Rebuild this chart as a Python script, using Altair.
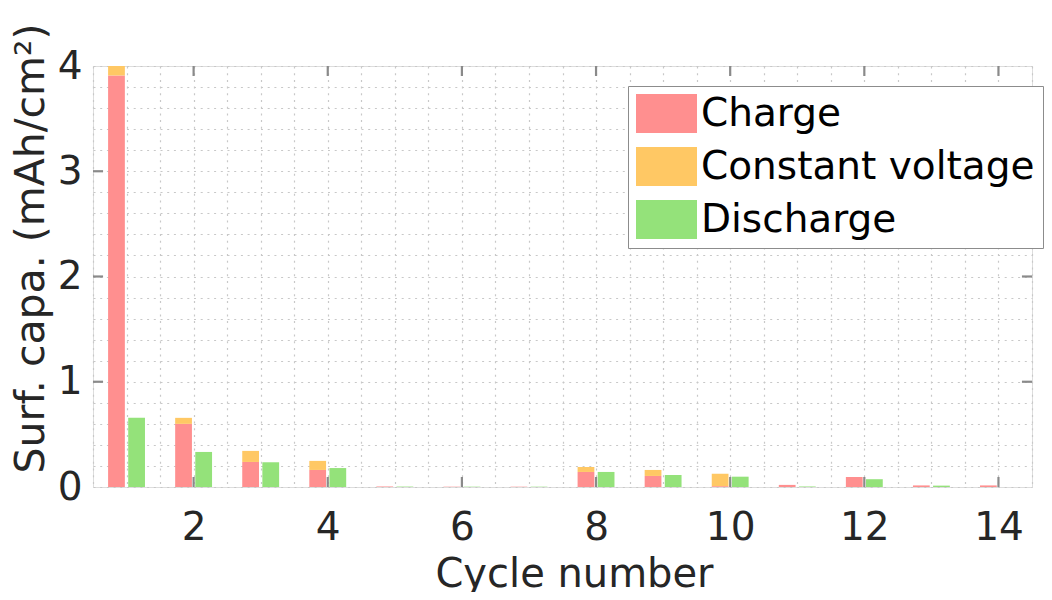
import altair as alt
import pandas as pd

cycles = list(range(1, 15))
charge = [3.91, 0.60, 0.238, 0.162, 0.005, 0.003, 0.003, 0.143, 0.105, 0.008, 0.02, 0.095, 0.015, 0.015]
const_voltage = [0.09, 0.057, 0.105, 0.086, 0.0, 0.0, 0.0, 0.047, 0.057, 0.118, 0.0, 0.0, 0.0, 0.0]
discharge = [0.657, 0.333, 0.235, 0.18, 0.004, 0.003, 0.003, 0.143, 0.114, 0.098, 0.005, 0.074, 0.013, 0.0]

series_names = ["Charge", "Constant voltage", "Discharge"]
series_colors = ["#FF8F8F", "#FFC864", "#94E27A"]

x_tick_values = [2, 4, 6, 8, 10, 12, 14]
y_tick_values = [1, 2, 3]

# bar layout constants
BAR_W = 0.25
GAP = 0.025

rows = []
for c, ch, cv, d in zip(cycles, charge, const_voltage, discharge):
    rows.append({"series": "Charge", "x0": c - GAP - BAR_W, "x1": c - GAP, "y0": 0.0, "y1": ch})
    rows.append({"series": "Constant voltage", "x0": c - GAP - BAR_W, "x1": c - GAP, "y0": ch, "y1": min(ch + cv, 4.0)})
    rows.append({"series": "Discharge", "x0": c + GAP, "x1": c + GAP + BAR_W, "y0": 0.0, "y1": d})
bars_df = pd.DataFrame(rows)

XMIN, XMAX = 0.5, 14.5
YMIN, YMAX = 0.0, 4.0
xscale = alt.Scale(domain=[XMIN, XMAX], nice=False, zero=False)
yscale = alt.Scale(domain=[YMIN, YMAX], nice=False)

FONT = "DejaVu Sans"
TXT = "#262626"
GRID = "#c8c8c8"

x_grid_vals = [0.5 * i for i in range(1, 30)]
y_grid_vals = [round(0.2 * i, 1) for i in range(0, 21)]

x_axis = alt.Axis(
    values=x_grid_vals,
    labelExpr="datum.value % 2 === 0 ? '' + datum.value : ''",
    labelOverlap=False,
    grid=True, gridDash=[2, 4.7], gridColor=GRID, gridWidth=1.2,
    ticks=False, domain=False,
    labelFontSize=39, labelColor=TXT, labelPadding=21, labelFont=FONT,
    title="Cycle number", titleFontSize=40, titleFontWeight="normal", titleColor=TXT,
    titleFont=FONT, titleX=481, titleY=99, titleBaseline="alphabetic",
)
y_axis = alt.Axis(
    values=y_grid_vals,
    labelExpr="datum.value % 1 === 0 ? '' + datum.value : ''",
    labelOverlap=False,
    grid=True, gridDash=[2, 4.7], gridColor=GRID, gridWidth=1.2,
    ticks=False, domain=False,
    labelFontSize=39, labelColor=TXT, labelPadding=11, labelFont=FONT,
    title="Surf. capa. (mAh/cm²)", titleFontSize=41, titleFontWeight="normal", titleColor=TXT,
    titleFont=FONT, titleX=-50, titleY=182, titleBaseline="alphabetic",
)

bars = alt.Chart(bars_df).mark_bar(clip=True, strokeWidth=0, opacity=1).encode(
    x=alt.X("x0:Q", scale=xscale, axis=x_axis),
    x2="x1:Q",
    y=alt.Y("y0:Q", scale=yscale, axis=y_axis),
    y2="y1:Q",
    color=alt.Color(
        "series:N",
        scale=alt.Scale(domain=series_names, range=series_colors),
        sort=series_names,
        legend=alt.Legend(
            title=None, orient="none", legendX=535, legendY=20,
            symbolType="M-1,-0.64H1V0.64H-1Z", symbolSize=3721,
            symbolStrokeWidth=0, symbolOpacity=1,
            labelFontSize=39, labelFont=FONT, labelColor="#000000", labelOffset=4,
            clipHeight=39, rowPadding=13, padding=8,
            fillColor="white", strokeColor="#8c8c8c",
            labelLimit=600,
        ),
    ),
)

TICK_LEN_Y = 0.095
TICK_LEN_X = 0.15
tick_color = "#8a8a8a"

xt = pd.DataFrame({"x": x_tick_values})
yt = pd.DataFrame({"y": y_tick_values})

bottom_ticks = alt.Chart(xt).transform_calculate(a=str(YMIN), b=str(YMIN + TICK_LEN_Y)).mark_rule(
    color=tick_color, strokeWidth=2.2).encode(
    x=alt.X("x:Q", scale=xscale, axis=x_axis), y=alt.Y("a:Q", scale=yscale, axis=y_axis), y2="b:Q")
top_ticks = alt.Chart(xt).transform_calculate(a=str(YMAX), b=str(YMAX - TICK_LEN_Y)).mark_rule(
    color=tick_color, strokeWidth=2.2).encode(
    x=alt.X("x:Q", scale=xscale, axis=x_axis), y=alt.Y("a:Q", scale=yscale, axis=y_axis), y2="b:Q")
left_ticks = alt.Chart(yt).transform_calculate(a=str(XMIN), b=str(XMIN + TICK_LEN_X)).mark_rule(
    color=tick_color, strokeWidth=2.2).encode(
    y=alt.Y("y:Q", scale=yscale, axis=y_axis), x=alt.X("a:Q", scale=xscale, axis=x_axis), x2="b:Q")
right_ticks = alt.Chart(yt).transform_calculate(a=str(XMAX), b=str(XMAX - TICK_LEN_X)).mark_rule(
    color=tick_color, strokeWidth=2.2).encode(
    y=alt.Y("y:Q", scale=yscale, axis=y_axis), x=alt.X("a:Q", scale=xscale, axis=x_axis), x2="b:Q")

chart = alt.layer(bars, bottom_ticks, top_ticks, left_ticks, right_ticks).properties(
    width=939, height=421,
    autosize=alt.AutoSizeParams(type="none"),
    padding={"left": 85, "top": 58, "right": 12, "bottom": 105},
    background="white",
).configure_view(
    stroke="#7a7a7a", strokeWidth=1.5,
).configure_axis(
    labelOverlap=False,
).configure_legend(
    strokeWidth=1.5,
).configure(font=FONT)

chart.save("out.html", embed_options={"renderer": "svg", "actions": False})
